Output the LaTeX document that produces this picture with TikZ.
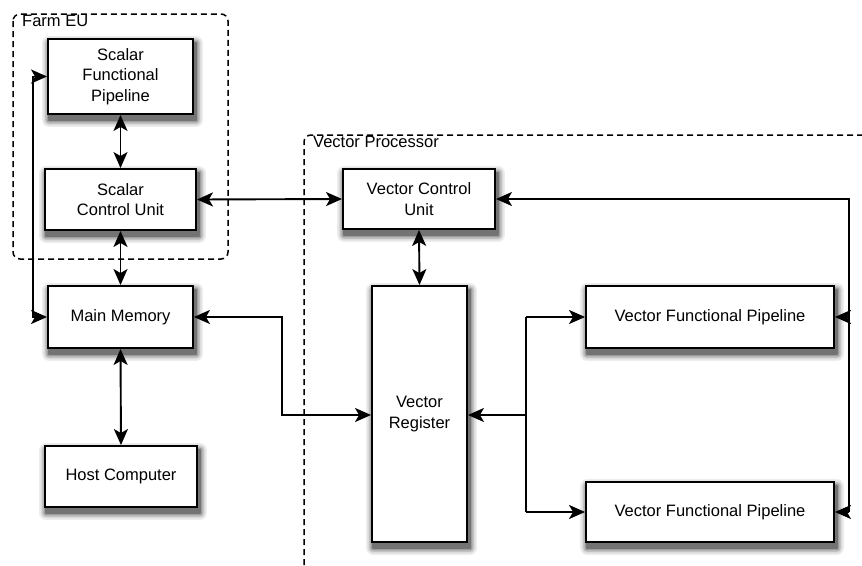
\documentclass[tikz,border=0pt]{standalone}
\usepackage{fontspec}
\setmainfont{Liberation Sans}
\usetikzlibrary{arrows.meta}
\pgfdeclarelayer{bg}
\pgfsetlayers{bg,main}
\tikzset{
  blk/.style={draw=black, line width=1.9pt, fill=white, align=center,
    font=\fontsize{16.5}{20.5}\selectfont, inner sep=2pt},
  conn/.style={line width=1.9pt, {Stealth[length=16pt,width=14pt,inset=4pt]}-{Stealth[length=16pt,width=14pt,inset=4pt]}},
  conn1/.style={line width=1.9pt, -{Stealth[length=16pt,width=14pt,inset=4pt]}},
  line/.style={line width=1.9pt},
  grp/.style={line width=1.5pt, dash pattern=on 6pt off 4pt},
  grplabel/.style={font=\fontsize{16.5}{20}\selectfont, anchor=north west, inner sep=0pt}
}
\newcommand{\boxshadow}[1]{%
  \begin{pgfonlayer}{bg}
  \foreach \g/\e in {7/7, 14/5.5, 24/4, 38/2.5, 55/1}{%
    \fill[black!\g, rounded corners=\e pt]
      ([shift={(2-\e, 5+\e)}]#1.south west) rectangle ([shift={(2+\e, 5-\e)}]#1.north east);
  }
  \end{pgfonlayer}}
\begin{document}
\begin{tikzpicture}[x=1pt,y=-1pt]
\useasboundingbox (0,0) rectangle (862,565);
% group boxes
\draw[grp, rounded corners=7pt] (13,14) rectangle (228,259);
\draw[grp, rounded corners=7pt] (304,575) -- (304,135) -- (880,135);
\node[grplabel] (farmlbl) at (22,15) {Farm EU};
\node[grplabel] (vplbl) at (313,136) {Vector Processor};
% blocks
\node[blk, minimum width=145pt, minimum height=75pt] (sfp) at (120.5,76.5) {Scalar\\Functional\\Pipeline};
\node[blk, minimum width=151pt, minimum height=61pt] (scu) at (120.5,199.5) {Scalar\\Control Unit};
\node[blk, minimum width=145pt, minimum height=62pt] (mm) at (120.5,317) {Main Memory};
\node[blk, minimum width=152pt, minimum height=61pt] (hc) at (121,476.5) {Host Computer};
\node[blk, minimum width=152pt, minimum height=60pt] (vcu) at (419,199) {Vector Control\\Unit};
\node[blk, minimum width=95pt, minimum height=256pt] (vr) at (419.5,414) {Vector\\Register};
\node[blk, minimum width=248pt, minimum height=62pt] (vfp1) at (710,317) {Vector Functional Pipeline};
\node[blk, minimum width=248pt, minimum height=60pt] (vfp2) at (710,512) {Vector Functional Pipeline};
\boxshadow{sfp}\boxshadow{scu}\boxshadow{mm}\boxshadow{hc}
\boxshadow{vcu}\boxshadow{vr}\boxshadow{vfp1}\boxshadow{vfp2}
% helper coordinates
\coordinate (lA) at (33,76.5);
\coordinate (lB) at (33,317);
\coordinate (mA) at (282,317);
\coordinate (mB) at (282,415);
\coordinate (bA) at (526,415);
\coordinate (bB) at (526,317);
\coordinate (bC) at (526,512);
\coordinate (rA) at (849,199);
\coordinate (rB) at (849,317);
\coordinate (rC) at (849,512);
% connectors
\draw[conn] (sfp.south) -- (scu.north);
\draw[conn] (scu.south) -- (mm.north);
\draw[conn] (mm.south) -- (hc.north);
\draw[conn] (sfp.west) -- (lA) -- (lB) -- (mm.west);
\draw[conn] (scu.east) -- (vcu.west);
\draw[conn] (vcu.south) -- (vr.north);
\draw[conn] (mm.east) -- (mA) -- (mB) -- (vr.west |- mB);
\draw[conn1] (bA) -- (vr.east |- bA);
\draw[line] (bB) -- (bC);
\draw[conn1] (bB) -- (vfp1.west);
\draw[conn1] (bC) -- (vfp2.west);
\draw[conn1] (rC) -- (rA) -- (vcu.east);
\draw[conn1] (rB) -- (vfp1.east);
\draw[conn1] (rC) -- (vfp2.east);
\end{tikzpicture}
\end{document}
